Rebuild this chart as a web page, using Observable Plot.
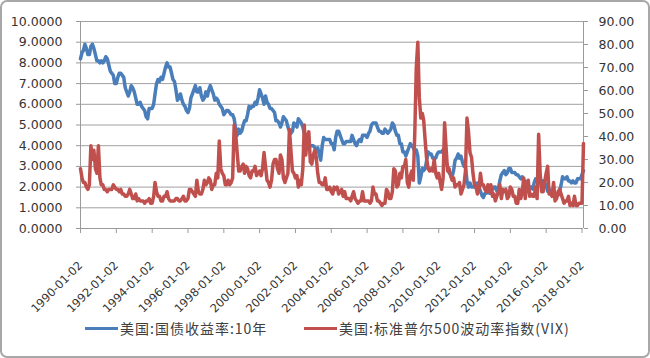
<!DOCTYPE html>
<html><head><meta charset="utf-8">
<script src="https://cdn.jsdelivr.net/npm/d3@7"></script>
<script src="https://cdn.jsdelivr.net/npm/@observablehq/plot@0.6"></script>
<style>
body{margin:0;background:#fff;}
#wrap{position:relative;width:650px;height:358px;overflow:hidden;background:#fff;}
#chart{position:absolute;left:0;top:0;}
#border{position:absolute;left:0;top:0;width:650px;height:358px;box-sizing:border-box;border:2px solid #a8a8a8;border-radius:7px;pointer-events:none;}
.leg{position:absolute;top:318px;height:20px;display:flex;align-items:center;font-family:"Noto Sans CJK SC";font-size:14px;letter-spacing:1px;color:#404040;white-space:nowrap;}
.sw{display:inline-block;width:33px;height:3px;margin-right:2px;}
</style>
</head><body>
<div id="wrap">
  <div id="chart"></div>
  <div class="leg" style="left:85px"><span class="sw" style="background:#4a7ebb"></span><span id="l1"></span></div>
  <div class="leg" style="left:304px"><span class="sw" style="background:#c0504d"></span><span id="l2"></span></div>
  <div id="border"></div>
</div>
<script>
const seriesNames = ["美国:国债收益率:10年", "美国:标准普尔500波动率指数(VIX)"];
// monthly readings, Jan 1990 .. Feb 2018
const yield10 = [
8.2,8.5,8.6,8.9,8.7,8.4,8.4,8.8,8.9,8.7,8.4,8.1,
8.1,8.0,8.1,8.0,8.1,8.3,8.2,7.9,7.6,7.5,7.4,7.0,
7.0,7.3,7.5,7.5,7.4,7.3,6.8,6.6,6.4,6.6,6.9,6.8,
6.6,6.3,6.0,6.0,6.1,5.9,5.8,5.7,5.4,5.3,5.8,5.8,
5.8,6.0,6.5,7.0,7.2,7.1,7.3,7.2,7.5,7.8,8.0,7.8,
7.8,7.5,7.2,7.1,6.7,6.2,6.3,6.5,6.2,6.0,5.9,5.7,
5.6,5.8,6.3,6.5,6.7,6.9,6.6,6.6,6.8,6.4,6.2,6.3,
6.6,6.4,6.7,6.9,6.7,6.5,6.2,6.3,6.2,6.0,5.9,5.8,
5.5,5.6,5.7,5.7,5.6,5.5,5.5,5.3,4.8,4.5,4.8,4.6,
4.7,5.0,5.2,5.2,5.5,5.9,5.8,5.9,5.9,6.1,6.0,6.3,
6.7,6.5,6.3,6.0,6.4,6.1,6.0,5.8,5.8,5.7,5.6,5.2,
5.2,5.1,4.9,5.1,5.4,5.3,5.2,4.9,4.7,4.6,4.7,5.1,
5.0,4.9,5.3,5.2,5.1,4.9,4.6,4.3,3.9,3.9,4.0,4.0,
4.0,3.9,3.8,3.9,3.6,3.3,4.0,4.4,4.3,4.3,4.3,4.3,
4.1,4.1,3.8,4.4,4.7,4.7,4.5,4.3,4.1,4.1,4.2,4.2,
4.2,4.2,4.5,4.3,4.1,4.0,4.2,4.3,4.2,4.5,4.5,4.5,
4.4,4.6,4.7,5.0,5.1,5.1,5.1,4.9,4.7,4.7,4.6,4.6,
4.8,4.7,4.6,4.7,4.8,5.1,5.0,4.7,4.5,4.5,4.1,4.1,
3.7,3.7,3.5,3.7,3.9,4.1,4.0,3.9,3.7,3.8,3.5,2.2,
2.5,2.9,2.8,2.9,3.3,3.7,3.6,3.6,3.4,3.4,3.4,3.6,
3.7,3.7,3.7,3.8,3.4,3.2,3.0,2.7,2.6,2.5,2.8,3.3,
3.4,3.6,3.4,3.5,3.2,3.0,3.0,2.3,2.0,2.2,2.0,2.0,
2.0,2.0,2.2,2.0,1.8,1.6,1.5,1.7,1.7,1.8,1.7,1.7,
1.9,2.0,2.0,1.8,1.9,2.3,2.6,2.7,2.8,2.6,2.7,2.9,
2.9,2.7,2.7,2.7,2.6,2.6,2.5,2.4,2.5,2.3,2.3,2.2,
1.9,2.0,2.0,1.9,2.2,2.4,2.3,2.2,2.2,2.1,2.3,2.2,
2.1,1.8,1.9,1.8,1.8,1.6,1.5,1.6,1.6,1.8,2.1,2.5,
2.4,2.4,2.5,2.3,2.3,2.2,2.3,2.2,2.2,2.4,2.4,2.4,
2.6,2.8];
const vix = [
26,22,20,20,18,17,19,36,30,34,26,24,
36,22,19,19,17,17,16,17,17,17,19,18,
17,17,16,17,15,15,14,14,15,17,15,13,
13,15,12,13,12,12,12,11,12,12,13,11,
11,14,20,16,14,14,12,12,14,14,16,13,
12,12,12,12,13,13,12,12,13,14,12,12,
13,17,17,16,15,14,21,16,15,15,17,21,
19,20,22,21,17,19,19,24,22,38,26,24,
23,19,19,21,19,20,22,45,41,33,25,25,
27,28,24,27,26,23,22,25,25,27,23,24,
25,23,26,33,27,21,20,18,21,28,30,30,
26,24,32,30,22,20,22,24,43,34,25,24,
22,23,18,21,19,26,45,32,40,42,29,28,
32,34,31,24,20,20,19,19,22,17,17,18,
16,15,18,17,18,15,16,17,14,16,13,13,
13,12,14,16,13,12,11,12,12,16,12,12,
12,12,11,12,18,15,15,12,12,11,10,11,
11,17,16,13,13,16,26,25,18,19,24,22,
27,27,30,20,18,23,25,21,42,70,81,57,
48,50,47,38,30,26,25,26,25,30,24,22,
24,20,17,22,46,35,25,26,23,21,22,18,
19,19,20,15,17,19,25,48,42,33,31,24,
19,18,15,17,24,19,19,17,16,19,16,19,
14,15,12,14,16,19,13,17,16,17,13,14,
18,17,14,14,11,11,17,13,16,22,13,19,
21,14,15,14,14,18,13,41,24,16,16,20,
24,27,15,15,14,20,12,13,16,17,15,13,
11,12,12,14,10,11,10,14,10,10,11,11,
11,37];
const xTickLabels = ["1990-01-02","1992-01-02","1994-01-02","1996-01-02","1998-01-02","2000-01-02","2002-01-02","2004-01-02","2006-01-02","2008-01-02","2010-01-02","2012-01-02","2014-01-02","2016-01-02","2018-01-02"];
const leftTicks = [0,1,2,3,4,5,6,7,8,9,10];
const rightTicks = [0,10,20,30,40,50,60,70,80,90];

document.getElementById("l1").textContent = seriesNames[0];
document.getElementById("l2").textContent = seriesNames[1];

const months = d3.utcMonth.range(new Date(Date.UTC(1990,0,1)), new Date(Date.UTC(2018,2,1)));
const blueData = yield10.map((v,i)=>({date:months[i], v}));
const redData = vix.map((v,i)=>({date:months[i], v: v/9}));
const tickDates = xTickLabels.map(s=>new Date(s+"T00:00:00Z"));
const x0 = months[0], x1 = months[months.length-1];

const chart = Plot.plot({
  width: 650, height: 318,
  marginLeft: 80, marginRight: 67, marginTop: 21, marginBottom: 90,
  x: {type: "utc", domain: [x0, x1]},
  y: {domain: [0, 10]},
  style: {fontFamily: "DejaVu Sans", fontSize: "12.5px", color: "#333", background: "transparent"},
  marks: [
    Plot.gridY(leftTicks.slice(1), {stroke: "#a0a0a0", strokeOpacity: 1}),
    Plot.ruleX([x0, x1], {stroke: "#9a9a9a"}),
    Plot.ruleY([0], {stroke: "#9a9a9a"}),
    Plot.axisY({ticks: leftTicks, tickFormat: d => d.toFixed(4), tickSize: 4, tickPadding: 14, stroke: "#9a9a9a", fill: "#333", fontSize: 12.5, label: null}),
    Plot.axisY({anchor: "right", ticks: rightTicks.map(v => v/9), tickFormat: d => (d*9).toFixed(2), tickSize: 4, tickPadding: 11, stroke: "#9a9a9a", fill: "#333", fontSize: 12.5, label: null}),
    Plot.axisX({ticks: tickDates, tickFormat: d3.utcFormat("%Y-%m-%d"), tickRotate: -45, tickSize: 5, tickPadding: 30, stroke: "#9a9a9a", fill: "#333", fontSize: 11.5, label: null}),
    Plot.line(blueData, {x: "date", y: "v", stroke: "#4a7ebb", strokeWidth: 3.5}),
    Plot.line(redData, {x: "date", y: "v", stroke: "#c0504d", strokeWidth: 3.5})
  ]
});
document.getElementById("chart").appendChild(chart);
</script>
</body></html>
